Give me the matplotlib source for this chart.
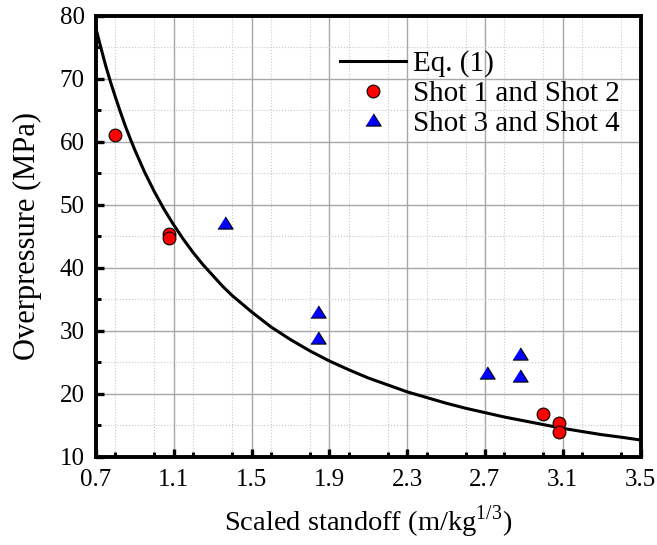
import numpy as np
import matplotlib
matplotlib.use('Agg')
import matplotlib.pyplot as plt
from matplotlib.ticker import MultipleLocator

plt.rcParams['font.family'] = ['Liberation Serif', 'DejaVu Serif']
plt.rcParams['mathtext.fontset'] = 'custom'
plt.rcParams['mathtext.rm'] = 'Liberation Serif'

# Eq. (1) curve
eq_x = [0.700, 0.725, 0.750, 0.775, 0.800, 0.825, 0.850, 0.875, 0.900, 0.950,
        1.00, 1.05, 1.10, 1.15, 1.20, 1.25, 1.30, 1.35, 1.40, 1.45, 1.50,
        1.60, 1.70, 1.80, 1.90, 2.00, 2.10, 2.20, 2.30, 2.40, 2.50, 2.60,
        2.70, 2.80, 2.90, 3.00, 3.10, 3.20, 3.30, 3.40, 3.50]
eq_y = [78.0, 75.0, 72.1, 69.5, 67.1, 64.8, 62.6, 60.6, 58.7, 55.2,
        52.1, 49.3, 46.8, 44.5, 42.4, 40.5, 38.8, 37.1, 35.6, 34.3, 33.0,
        30.6, 28.6, 26.8, 25.2, 23.8, 22.5, 21.4, 20.3, 19.4, 18.5, 17.7,
        17.0, 16.3, 15.7, 15.1, 14.5, 14.0, 13.5, 13.1, 12.65]

# Shot 1 and Shot 2
s12_x = [0.80, 1.075, 1.075, 3.00, 3.08, 3.08]
s12_y = [61.0, 45.4, 44.8, 16.8, 15.3, 14.0]

# Shot 3 and Shot 4
s34_x = [1.365, 1.84, 1.84, 2.71, 2.88, 2.88]
s34_y = [47.0, 32.8, 28.7, 23.1, 26.1, 22.7]

xticks = [0.7, 1.1, 1.5, 1.9, 2.3, 2.7, 3.1, 3.5]
xticklabels = ['0.7', '1.1', '1.5', '1.9', '2.3', '2.7', '3.1', '3.5']

tri = [(-1, -0.6), (1, -0.6), (0, 1.0)]

fig = plt.figure(figsize=(6.57, 5.45), dpi=100)
ax = fig.add_axes([0.146, 0.162, 0.829, 0.809])

ax.plot(eq_x, eq_y, color='black', lw=2.2, label='Eq. (1)', zorder=3,
        solid_joinstyle='round')
ax.plot(s12_x, s12_y, 'o', ms=9.2, mfc='red', mec='black', mew=0.8,
        label='Shot 1 and Shot 2', zorder=4)
ax.plot(s34_x, s34_y, ls='none', marker=tri, ms=11, mfc='blue', mec='black',
        mew=0.8, label='Shot 3 and Shot 4', zorder=4)

ax.set_xlim(0.7, 3.5)
ax.set_ylim(10, 80)
ax.set_xticks(xticks)
ax.set_xticklabels(xticklabels)
ax.xaxis.set_minor_locator(MultipleLocator(0.2))
ax.yaxis.set_major_locator(MultipleLocator(10))
ax.yaxis.set_minor_locator(MultipleLocator(5))

ax.grid(which='major', color='#a8a8a8', lw=1.0)
ax.grid(which='minor', color='#c8c8c8', lw=0.8, ls=':')
ax.set_axisbelow(True)

for s in ax.spines.values():
    s.set_linewidth(2.8)
ax.tick_params(which='major', direction='in', length=6, width=2.4,
               labelsize=18)
ax.tick_params(axis='x', which='major', pad=9)
ax.tick_params(axis='y', which='major', pad=8)
ax.tick_params(which='minor', direction='in', length=3.5, width=2.2)

ax.set_xlabel('Scaled standoff (m/kg$^{1/3}$)', fontsize=20.5, labelpad=9)
ax.set_ylabel('Overpressure (MPa)', fontsize=22, labelpad=13)

ax.legend(loc='upper left', frameon=False, fontsize=21, handlelength=2.25,
          bbox_to_anchor=(0.448, 0.922), labelspacing=0.12, handletextpad=0.25,
          borderaxespad=0, borderpad=0)

fig.savefig('out.png', dpi=100)
